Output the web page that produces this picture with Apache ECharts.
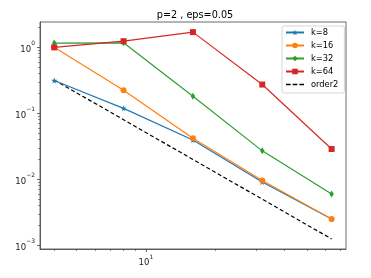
<!DOCTYPE html>
<html>
<head>
<meta charset="utf-8">
<script src="https://cdn.jsdelivr.net/npm/echarts@6/dist/echarts.min.js"></script>
<style>html,body{margin:0;padding:0;background:#fff}#c{width:371px;height:278px}</style>
</head>
<body>
<div id="c"></div>
<script>
const titleText = "p=2 , eps=0.05";
const xValues = [4, 8, 16, 32, 64];
const k8 = [0.314, 0.119, 0.0394, 0.0091, 0.0025];
const k16 = [1.0, 0.224, 0.0418, 0.0096, 0.0025];
const k32 = [1.16, 1.17, 0.182, 0.027, 0.006];
const k64 = [1.0, 1.24, 1.70, 0.273, 0.0288];
const order2 = [0.32, 0.08, 0.02, 0.005, 0.00125];
const seriesNames = ["k=8", "k=16", "k=32", "k=64", "order2"];
const xMajorTicks = [10];
const xMinorTicks = [4, 5, 6, 7, 8, 9, 20, 30, 40, 50, 60, 70];
const yMajorTicks = [0.001, 0.01, 0.1, 1];
const yMinorTicks = [0.002,0.003,0.004,0.005,0.006,0.007,0.008,0.009,
  0.02,0.03,0.04,0.05,0.06,0.07,0.08,0.09,
  0.2,0.3,0.4,0.5,0.6,0.7,0.8,0.9, 2];

const colors = ['#1f77b4', '#ff7f0e', '#2ca02c', '#d62728', '#000000'];
const FONT = 'DejaVu Sans';
const starPath = 'path://M50,0 L61.8,35.4 L100,35.4 L69.1,57.3 L80.9,95.1 L50,73.2 L19.1,95.1 L30.9,57.3 L0,35.4 L38.2,35.4 Z';
const dashIcon = 'path://M0,0 h4.5 v1.3 h-4.5 z M6.5,0 h4.5 v1.3 h-4.5 z M13,0 h4.5 v1.3 h-4.5 z';

function pow10Label(v) {
  const e = Math.round(Math.log10(v));
  const s = e < 0 ? '\u2212' + (-e) : '' + e;
  return '{b|10}{s|' + s + '}';
}
const rich = {
  b: { fontFamily: FONT, fontSize: 8.5, color: '#222', lineHeight: 13, verticalAlign: 'bottom' },
  s: { fontFamily: FONT, fontSize: 6, color: '#222', lineHeight: 13, verticalAlign: 'top' }
};

const X_MIN = 3.47, X_MAX = 73.9, Y_MIN = 0.00088, Y_MAX = 2.42;
const axisCol = '#444';

function toData(arr) { return xValues.map((x, i) => [x, arr[i]]); }

const chart = echarts.init(document.getElementById('c'), null, { renderer: 'canvas' });
chart.setOption({
  animation: false,
  backgroundColor: '#fff',
  title: {
    text: titleText, left: 190, top: 5, textAlign: 'center',
    textStyle: { fontFamily: FONT, fontSize: 9.7, fontWeight: 'normal', color: '#000' }
  },
  grid: { left: 40, top: 22, right: 25, bottom: 29, show: true, borderColor: axisCol, borderWidth: 0.8, backgroundColor: 'transparent' },
  legend: {
    left: 282, top: 26, orient: 'vertical',
    padding: [0, 6, 2, 3], itemGap: 0, itemWidth: 18, itemHeight: 7,
    backgroundColor: 'rgba(255,255,255,0.8)', borderColor: '#ccc', borderWidth: 0.8, borderRadius: 2,
    textStyle: { fontFamily: FONT, fontSize: 8.3, color: '#000', lineHeight: 13, padding: [0, 0, 0, 2] },
    data: [
      { name: seriesNames[0] }, { name: seriesNames[1] }, { name: seriesNames[2] }, { name: seriesNames[3] },
      { name: seriesNames[4], icon: dashIcon, itemStyle: { color: '#000' } }
    ]
  },
  xAxis: [
    { type: 'log', logBase: 10, min: X_MIN, max: X_MAX, position: 'bottom',
      axisLine: { show: true, onZero: false, lineStyle: { color: axisCol, width: 0.8 } },
      splitLine: { show: false }, minorTick: { show: false },
      axisTick: { show: true, length: 3, customValues: xMajorTicks, lineStyle: { color: axisCol, width: 0.8 } },
      axisLabel: { show: true, margin: 5, customValues: xMajorTicks, formatter: pow10Label, rich: rich } },
    { type: 'log', logBase: 10, min: X_MIN, max: X_MAX, position: 'bottom',
      axisLine: { show: false, onZero: false }, splitLine: { show: false },
      axisTick: { show: true, length: 2, customValues: xMinorTicks, lineStyle: { color: axisCol, width: 0.6 } },
      axisLabel: { show: false } }
  ],
  yAxis: [
    { type: 'log', logBase: 10, min: Y_MIN, max: Y_MAX, position: 'left',
      axisLine: { show: true, onZero: false, lineStyle: { color: axisCol, width: 0.8 } },
      splitLine: { show: false },
      axisTick: { show: true, length: 3, customValues: yMajorTicks, lineStyle: { color: axisCol, width: 0.8 } },
      axisLabel: { show: true, margin: 5, customValues: yMajorTicks, formatter: pow10Label, rich: rich } },
    { type: 'log', logBase: 10, min: Y_MIN, max: Y_MAX, position: 'left',
      axisLine: { show: false, onZero: false }, splitLine: { show: false },
      axisTick: { show: true, length: 2, customValues: yMinorTicks, lineStyle: { color: axisCol, width: 0.6 } },
      axisLabel: { show: false } }
  ],
  series: [
    { name: seriesNames[0], type: 'line', data: toData(k8), color: colors[0],
      symbol: starPath, symbolSize: 6, showSymbol: true,
      lineStyle: { width: 1.2, color: colors[0] }, itemStyle: { color: colors[0] }, z: 5 },
    { name: seriesNames[1], type: 'line', data: toData(k16), color: colors[1],
      symbol: 'circle', symbolSize: 6,
      lineStyle: { width: 1.2, color: colors[1] }, itemStyle: { color: colors[1] }, z: 6 },
    { name: seriesNames[2], type: 'line', data: toData(k32), color: colors[2],
      symbol: 'diamond', symbolSize: [4.5, 7],
      lineStyle: { width: 1.2, color: colors[2] }, itemStyle: { color: colors[2] }, z: 7 },
    { name: seriesNames[3], type: 'line', data: toData(k64), color: colors[3],
      symbol: 'rect', symbolSize: 6,
      lineStyle: { width: 1.2, color: colors[3] }, itemStyle: { color: colors[3] }, z: 8 },
    { name: seriesNames[4], type: 'line', data: toData(order2), color: colors[4],
      symbol: 'none', showSymbol: false,
      lineStyle: { width: 1.2, color: colors[4], type: [4, 2.5] }, itemStyle: { color: colors[4] }, z: 4 }
  ]
});
</script>
</body>
</html>
